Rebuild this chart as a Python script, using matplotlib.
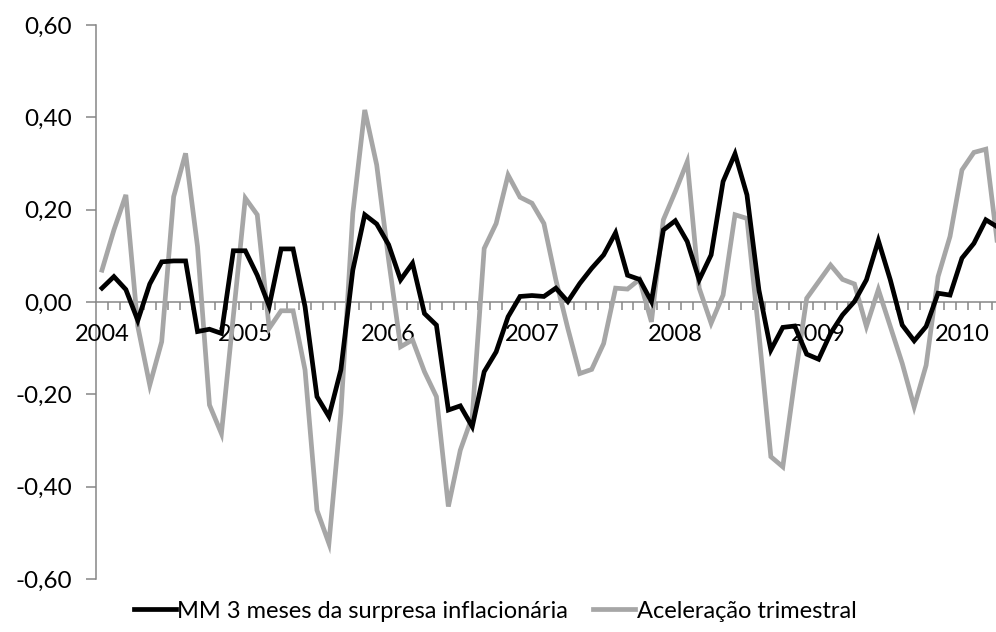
import matplotlib
matplotlib.use("Agg")
import matplotlib.pyplot as plt
import numpy as np
from matplotlib.ticker import FixedLocator, FuncFormatter

plt.rcParams['font.family'] = ['Lato', 'DejaVu Sans']

# dados mensais, jan/2004 a abr/2010
anos = ['2004', '2005', '2006', '2007', '2008', '2009', '2010']

mm3_surpresa = [
    0.030, 0.055, 0.027, -0.040, 0.039, 0.087, 0.089, 0.089, -0.064, -0.059, -0.068, 0.111,
    0.111, 0.058, -0.009, 0.115, 0.115, -0.010, -0.205, -0.248, -0.147, 0.069, 0.189, 0.169,
    0.124, 0.048, 0.084, -0.025, -0.050, -0.234, -0.225, -0.270, -0.151, -0.108, -0.032, 0.012,
    0.014, 0.012, 0.030, 0.001, 0.040, 0.073, 0.102, 0.150, 0.058, 0.049, 0.001, 0.156,
    0.176, 0.131, 0.048, 0.102, 0.261, 0.321, 0.232, 0.026, -0.104, -0.055, -0.052, -0.113,
    -0.124, -0.068, -0.028, 0.001, 0.048, 0.133, 0.048, -0.050, -0.084, -0.053, 0.019, 0.015,
    0.095, 0.127, 0.178, 0.162,
]

aceleracao_tri = [
    0.069, 0.156, 0.232, -0.053, -0.180, -0.086, 0.228, 0.322, 0.120, -0.223, -0.285, -0.030,
    0.225, 0.189, -0.057, -0.019, -0.019, -0.147, -0.451, -0.523, -0.241, 0.192, 0.416, 0.297,
    0.091, -0.097, -0.082, -0.151, -0.205, -0.443, -0.321, -0.248, 0.116, 0.170, 0.275, 0.227,
    0.214, 0.170, 0.048, -0.057, -0.155, -0.146, -0.090, 0.030, 0.028, 0.049, -0.043, 0.178,
    0.239, 0.304, 0.030, -0.046, 0.015, 0.189, 0.181, -0.068, -0.335, -0.357, -0.169, 0.008,
    0.044, 0.080, 0.049, 0.039, -0.053, 0.027, -0.053, -0.133, -0.227, -0.137, 0.055, 0.142,
    0.286, 0.324, 0.331, 0.120,
]

x = np.arange(len(mm3_surpresa))
cinza_eixo = '#868686'

fig = plt.figure(figsize=(9.96, 6.32), dpi=100)
ax = fig.add_axes([96 / 996, 1 - 579 / 632, 1 - 96 / 996, (579 - 25) / 632])

ax.plot(x, mm3_surpresa, color='black', lw=3.4, solid_joinstyle='miter', zorder=3,
        label='MM 3 meses da surpresa inflacionária')
ax.plot(x, aceleracao_tri, color='#A6A6A6', lw=3.4, solid_joinstyle='miter', zorder=2,
        label='Aceleração trimestral')

ax.set_xlim(-0.5, 74.85)
ax.set_ylim(-0.6, 0.6)

for s in ['top', 'right']:
    ax.spines[s].set_visible(False)
ax.spines['bottom'].set_position(('data', 0))
for s in ['left', 'bottom']:
    ax.spines[s].set_color(cinza_eixo)
    ax.spines[s].set_linewidth(1.1)
    ax.spines[s].set_zorder(1)

ax.set_yticks(np.arange(-0.6, 0.61, 0.2))
ax.yaxis.set_major_formatter(FuncFormatter(lambda v, p: f"{v:.2f}".replace('.', ',').replace('-0,00', '0,00')))
ax.tick_params(axis='y', direction='out', length=7.2, width=1.1, color=cinza_eixo,
               labelsize=17.5, pad=10)

ax.xaxis.set_major_locator(FixedLocator([12 * i for i in range(len(anos))]))
ax.set_xticklabels(anos)
ax.xaxis.set_minor_locator(FixedLocator(np.arange(0.5, 76, 1)))
ax.tick_params(axis='x', which='major', length=0, labelsize=17, pad=16)
ax.tick_params(axis='x', which='minor', direction='out', length=6, width=1.1, color=cinza_eixo)

fig.legend(loc='center', bbox_to_anchor=(0.497, 0.033), ncol=2, frameon=False,
           fontsize=17, handlelength=1.8, handletextpad=0.05, columnspacing=1.05,
           borderaxespad=0)

fig.savefig('out.png', dpi=100)
